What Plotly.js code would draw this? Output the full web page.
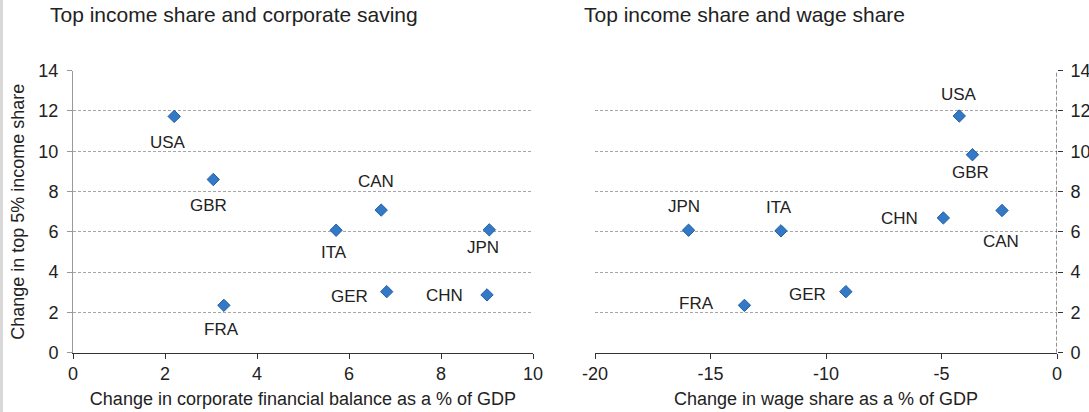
<!DOCTYPE html>
<html>
<head>
<meta charset="utf-8">
<script src="https://cdn.plot.ly/plotly-3.0.1.min.js"></script>
<style>
  html, body { margin: 0; padding: 0; background: #ffffff; }
  #chart { width: 1089px; height: 412px; }
</style>
</head>
<body>
<div id="chart"></div>
<script>
// ---- Data ----
const countries = ['USA', 'GBR', 'ITA', 'CAN', 'JPN', 'GER', 'CHN', 'FRA'];
// Left panel: change in corporate financial balance (% of GDP) vs change in top 5% income share
const corpBalance = [2.2, 3.05, 5.72, 6.7, 9.05, 6.82, 9.0, 3.28];
const topShareLeft = [11.73, 8.6, 6.08, 7.08, 6.1, 3.03, 2.87, 2.35];
// Right panel: change in wage share (% of GDP) vs change in top 5% income share
const wageShare = [-4.23, -3.66, -11.95, -2.38, -15.95, -9.14, -4.92, -13.53];
const topShareRight = [11.75, 9.83, 6.05, 7.06, 6.08, 3.03, 6.69, 2.35];

// Tick labels
const leftXTicks = [0, 2, 4, 6, 8, 10];
const leftXTickText = ['0', '2', '4', '6', '8', '10'];
const rightXTicks = [-20, -15, -10, -5, 0];
const rightXTickText = ['-20', '-15', '-10', '-5', '0'];
const yTicks = [0, 2, 4, 6, 8, 10, 12, 14];
const yTickText = ['0', '2', '4', '6', '8', '10', '12', '14'];

const leftTitle = 'Top income share and corporate saving';
const rightTitle = 'Top income share and wage share';
const leftXTitle = 'Change in corporate financial balance as a % of GDP';
const rightXTitle = 'Change in wage share as a % of GDP';
const yTitle = 'Change in top 5% income share';

// ---- Label placement (pixel offsets of each country label from its marker) ----
const leftLabelOffset = {
  USA: [-6, 26], GBR: [-5, 26], ITA: [-2, 22], CAN: [-5, -29],
  JPN: [-6, 18], GER: [-37, 5], CHN: [-43, 1], FRA: [-2, 24]
};
const rightLabelOffset = {
  USA: [0, -22], GBR: [-2, 18], ITA: [-2, -23], CAN: [-1, 31],
  JPN: [-5, -24], GER: [-38, 3], CHN: [-44, 1], FRA: [-48, -2]
};

const W = 1089, H = 412;
const FONT = 'Liberation Sans, Arial, Helvetica, sans-serif';
const TXT = '#222222';
const marker = { symbol: 'diamond', size: 9.5, color: '#3479c6', line: { color: '#215ea6', width: 1 } };

const traces = [
  { type: 'scatter', mode: 'markers', x: corpBalance, y: topShareLeft, text: countries,
    xaxis: 'x', yaxis: 'y', marker: marker, hoverinfo: 'text+x+y' },
  { type: 'scatter', mode: 'markers', x: wageShare, y: topShareRight, text: countries,
    xaxis: 'x2', yaxis: 'y2', marker: marker, hoverinfo: 'text+x+y' }
];

const annotations = [];
countries.forEach((c, i) => {
  const o = leftLabelOffset[c];
  annotations.push({ xref: 'x', yref: 'y', x: corpBalance[i], y: topShareLeft[i], text: c,
    showarrow: false, xanchor: 'center', yanchor: 'middle', xshift: o[0], yshift: -o[1],
    font: { family: FONT, size: 17, color: TXT } });
  const p = rightLabelOffset[c];
  annotations.push({ xref: 'x2', yref: 'y2', x: wageShare[i], y: topShareRight[i], text: c,
    showarrow: false, xanchor: 'center', yanchor: 'middle', xshift: p[0], yshift: -p[1],
    font: { family: FONT, size: 17, color: TXT } });
});
annotations.push({ xref: 'paper', yref: 'paper', x: 48 / W, y: 1 - 15 / H, xanchor: 'left', yanchor: 'middle',
  text: leftTitle, showarrow: false, font: { family: FONT, size: 21, color: TXT } });
annotations.push({ xref: 'paper', yref: 'paper', x: 582 / W, y: 1 - 15 / H, xanchor: 'left', yanchor: 'middle',
  text: rightTitle, showarrow: false, font: { family: FONT, size: 21, color: TXT } });

const yDomain = [(H - 352.7) / H, (H - 70.7) / H];
const gridStyle = { showgrid: true, gridcolor: '#a6a6a6', gridwidth: 1, griddash: '3px,2px' };

const layout = {
  width: W, height: H,
  margin: { l: 0, r: 0, t: 0, b: 0, pad: 0 },
  paper_bgcolor: '#ffffff', plot_bgcolor: '#ffffff',
  showlegend: false,
  font: { family: FONT, size: 18, color: TXT },
  xaxis: {
    domain: [73 / W, 533 / W], range: [0, 10], tickmode: 'array', tickvals: leftXTicks, ticktext: leftXTickText,
    anchor: 'y', showgrid: false, zeroline: false, showline: true, linecolor: '#333333', linewidth: 1,
    ticks: 'outside', ticklen: 5, tickcolor: '#333333', tickfont: { size: 18, color: TXT },
    title: { text: leftXTitle, font: { size: 18, color: TXT }, standoff: 9 },
    fixedrange: true
  },
  yaxis: Object.assign({
    domain: yDomain, range: [0, 14], tickmode: 'array', tickvals: yTicks, ticktext: yTickText, anchor: 'x',
    zeroline: false, showline: true, linecolor: '#999999', linewidth: 1,
    ticks: 'outside', ticklen: 5, tickcolor: '#999999', tickfont: { size: 18, color: TXT },
    ticklabelstandoff: 5,
    title: { text: yTitle, font: { size: 18, color: TXT }, standoff: 9 },
    fixedrange: true
  }, gridStyle),
  xaxis2: {
    domain: [595 / W, 1057 / W], range: [-20, 0], tickmode: 'array', tickvals: rightXTicks, ticktext: rightXTickText,
    anchor: 'y2', showgrid: false, zeroline: false, showline: true, linecolor: '#333333', linewidth: 1,
    ticks: 'outside', ticklen: 5, tickcolor: '#333333', tickfont: { size: 18, color: TXT },
    title: { text: rightXTitle, font: { size: 18, color: TXT }, standoff: 9 },
    fixedrange: true
  },
  yaxis2: Object.assign({
    domain: yDomain, range: [0, 14], tickmode: 'array', tickvals: yTicks, ticktext: yTickText,
    anchor: 'x2', side: 'right', zeroline: false, showline: false,
    ticks: 'outside', ticklen: 5, tickcolor: '#333333', tickfont: { size: 18, color: TXT },
    ticklabelstandoff: 4,
    fixedrange: true
  }, gridStyle),
  shapes: [
    // dashed vertical axis line at x = 0 of the right panel
    { type: 'line', xref: 'x2', yref: 'y2', x0: 0, x1: 0, y0: 0, y1: 14,
      line: { color: '#222222', width: 1, dash: '4px,2px' }, layer: 'above' },
    // light grey strip on the left edge of the picture
    { type: 'rect', xref: 'paper', yref: 'paper', x0: 0, x1: 3 / W, y0: 0, y1: 1,
      fillcolor: '#d9d9d9', line: { width: 0 }, layer: 'below' }
  ],
  annotations: annotations
};

Plotly.newPlot('chart', traces, layout, { displayModeBar: false, staticPlot: true });
</script>
</body>
</html>
